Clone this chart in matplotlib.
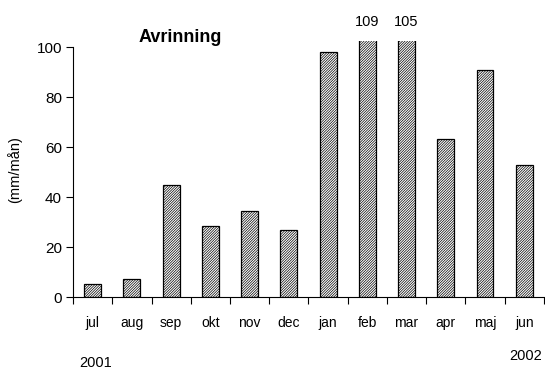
import numpy as np
import matplotlib
matplotlib.use("Agg")
import matplotlib.pyplot as plt

# -----------------------------
# Data
# -----------------------------
months = ["jul", "aug", "sep", "okt", "nov", "dec",
          "jan", "feb", "mar", "apr", "maj", "jun"]
runoff = [5.1, 7.1, 45.0, 28.4, 34.4, 26.7,
          98.0, 109, 105, 63.2, 90.7, 52.9]
YMAX = 100

plt.rcParams['font.family'] = ['Liberation Sans', 'DejaVu Sans']
plt.rcParams['hatch.linewidth'] = 0.5
plt.rcParams['hatch.color'] = '#555555'

fig = plt.figure(figsize=(5.45, 3.72), dpi=100)
ax = fig.add_axes([0.134, 0.2016, 0.864, 0.687])

x = np.arange(len(months))
ax.bar(x, runoff, width=0.43, color='white', edgecolor='black',
       linewidth=0.9, hatch='/' * 13)

ax.set_xlim(-0.5, len(months) - 0.5)
ax.set_ylim(0, 102.3)

# values above the top of the scale are written out
for xi, v in zip(x, runoff):
    if v > YMAX:
        ax.text(xi, 110.2, f"{v:g}", ha='center', va='center', fontsize=10.5,
                clip_on=False)

ax.spines['top'].set_visible(False)
ax.spines['right'].set_visible(False)
ax.spines['left'].set_bounds(0, YMAX)
ax.spines['bottom'].set_bounds(-0.5, len(months) - 0.5)

ax.set_yticks([0, 20, 40, 60, 80, 100])
ax.tick_params(axis='y', direction='out', length=5, labelsize=11, pad=3)

# ticks between categories, labels centred on bars
ax.set_xticks(np.arange(-0.5, len(months)), minor=False)
ax.set_xticklabels([])
ax.set_xticks(x, minor=True)
ax.set_xticklabels(months, minor=True, fontsize=10)
ax.tick_params(axis='x', which='major', direction='out', length=5)
ax.tick_params(axis='x', which='minor', length=0, pad=14)

fig.text(15 / 545, 1 - 170 / 372, "(mm/mån)", fontsize=10.5, rotation=90,
         ha='center', va='center')

ax.text(2.23, 104, "Avrinning", fontsize=13, fontweight='bold', ha='center',
        va='center')

fig.text(0.175, 0.005, "2001", fontsize=10.5, ha='center', va='bottom')
fig.text(0.965, 0.025, "2002", fontsize=10.5, ha='center', va='bottom')

fig.savefig("out.png", dpi=100)
